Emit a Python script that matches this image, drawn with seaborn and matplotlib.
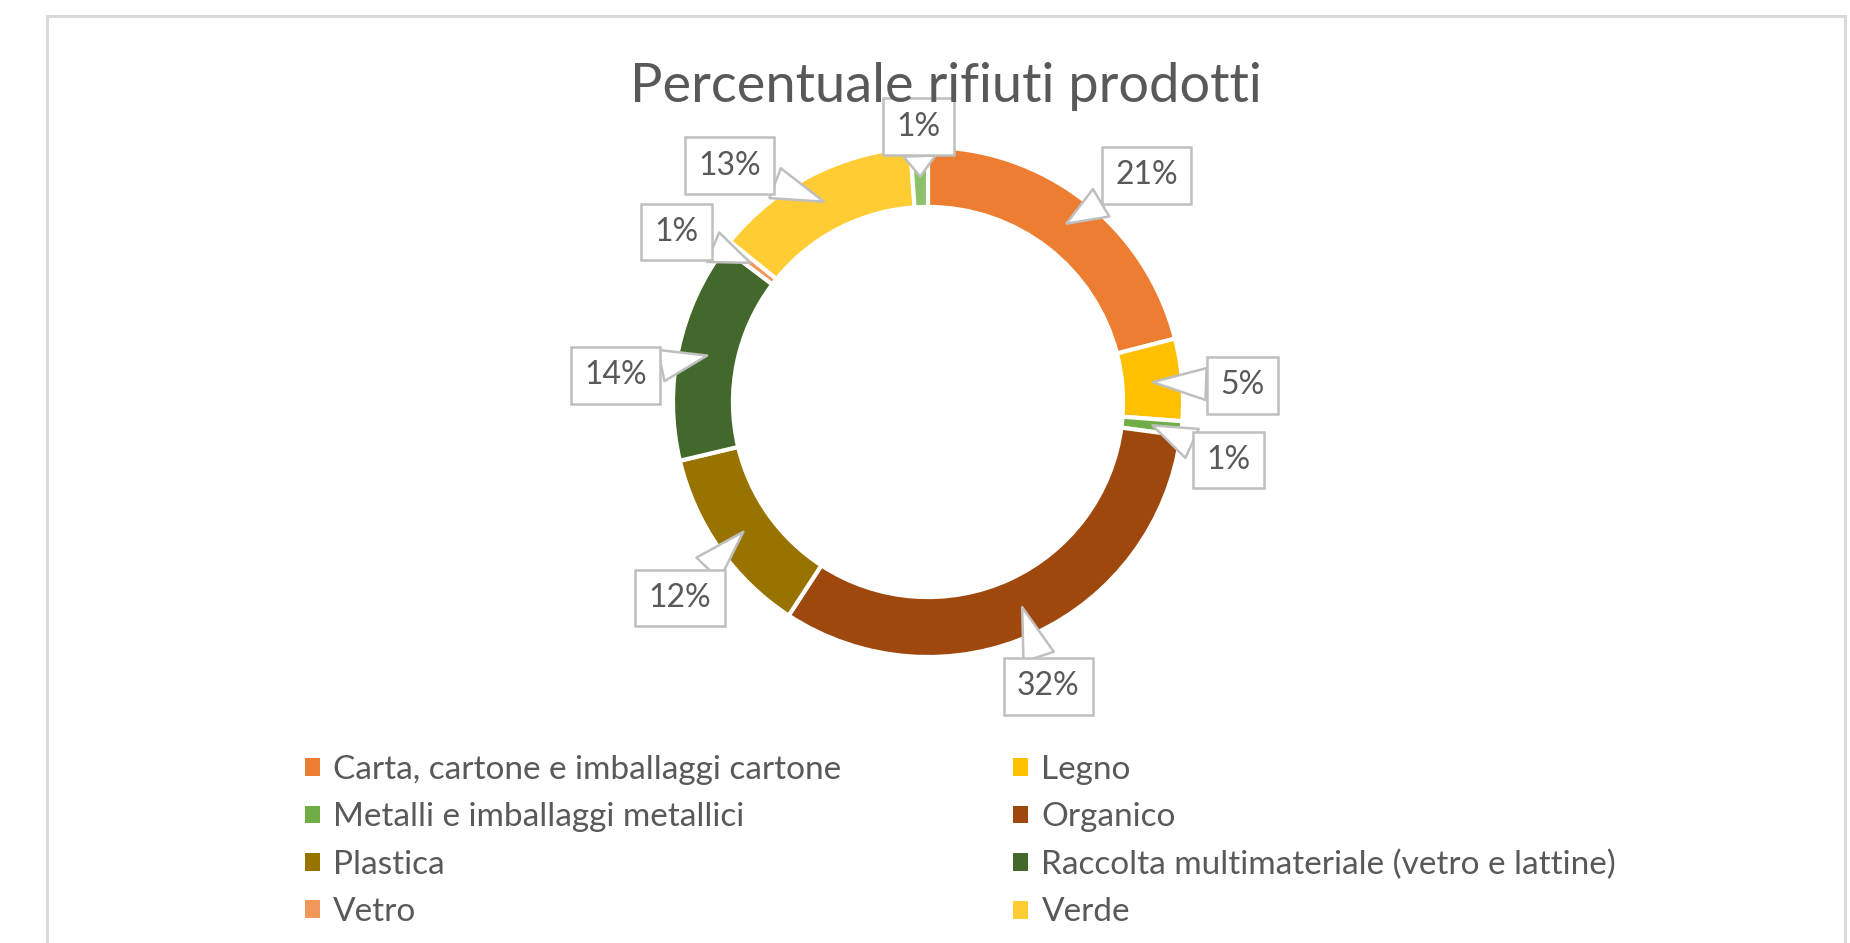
import numpy as np
import matplotlib
matplotlib.use("Agg")
import matplotlib.pyplot as plt
from matplotlib.patches import Rectangle, Patch
import seaborn as sns

# Waste categories and their share of the total (percent)
categories = [
    "Carta, cartone e imballaggi cartone",
    "Legno",
    "Metalli e imballaggi metallici",
    "Organico",
    "Plastica",
    "Raccolta multimateriale (vetro e lattine)",
    "Vetro",
    "Verde",
    "Altro",
]
shares = [21.0, 5.2, 0.9, 32.1, 12.1, 14.0, 0.55, 13.05, 1.1]
slice_colors = ["#ED7D31", "#FFC000", "#70AD47", "#9E480E", "#997300",
                "#43682B", "#F1975A", "#FFCD33", "#8CC168"]
title = "Percentuale rifiuti prodotti"

# Callout placement: angular nudge (deg) and radius (in ring radii) per slice
label_nudge = [6.2, 2.0, 5.0, 1.7, -3.2, -7.0, -4.0, -12.6, 0.0]
label_radius = [1.235, 1.235, 1.20, 1.21, 1.24, 1.23, 1.19, 1.21, 1.08]
legend_entries = 8

sns.set_theme(style="white")
plt.rcParams["font.family"] = ["Lato", "DejaVu Sans"]
text_color = "#595959"

W, H = 1850, 943
fig = plt.figure(figsize=(W / 100, H / 100), dpi=100)
fig.patch.set_facecolor("white")

# Axes spanning the whole figure, one data unit = ring outer radius
cx, cy, R = 928, H - 402, 255
ax = fig.add_axes([0, 0, 1, 1])
palette = sns.color_palette(slice_colors)
wedges, _ = ax.pie(
    shares, colors=palette, startangle=90, counterclock=False, radius=1.0,
    wedgeprops=dict(width=0.235, edgecolor="white", linewidth=3.0),
)
ax.set_xlim(-cx / R, (W - cx) / R)
ax.set_ylim(-cy / R, (H - cy) / R)
ax.set_aspect("auto")
ax.axis("off")

# Percentage callouts
total = float(sum(shares))
starts = np.cumsum([0.0] + shares[:-1])
for i, v in enumerate(shares):
    mid = (starts[i] + v / 2) / total * 360.0
    pct = int(np.floor(v / total * 100 + 0.5))
    th = np.deg2rad(mid)
    tip = (0.885 * np.sin(th), 0.885 * np.cos(th))
    tl = np.deg2rad(mid + label_nudge[i])
    pos = (label_radius[i] * np.sin(tl), label_radius[i] * np.cos(tl))
    ax.annotate(
        f"{pct}%", xy=tip, xytext=pos, ha="center", va="center",
        fontsize=23, color=text_color, zorder=5,
        bbox=dict(boxstyle="square,pad=0.42", fc="white", ec="#bfbfbf", lw=1.8),
        arrowprops=dict(arrowstyle="wedge,tail_width=1.0,shrink_factor=0.5",
                        fc="white", ec="#bfbfbf", lw=1.8, shrinkA=0, shrinkB=0),
    )

# Title
fig.text(946 / W, 1 - 102 / H, title, ha="center", va="baseline",
         fontsize=39, color=text_color)

# Legend in two columns, filled row by row
order = [0, 2, 4, 6, 1, 3, 5, 7][:legend_entries]
handles = [Patch(facecolor=palette[i], edgecolor="none") for i in order]
labels = [categories[i] for i in order]
leg = fig.legend(
    handles, labels, ncol=2, loc="upper left",
    bbox_to_anchor=(305 / W, 1 - 755 / H), frameon=False, fontsize=24,
    handlelength=0.45, handleheight=0.45, handletextpad=0.4,
    columnspacing=5.15, labelspacing=0.52, borderpad=0, borderaxespad=0,
)
for t in leg.get_texts():
    t.set_color(text_color)

# Chart-area frame
fig.add_artist(Rectangle((47 / W, -0.05), (1845 - 47) / W, (H - 16) / H + 0.05,
                         transform=fig.transFigure, fill=False,
                         ec="#d9d9d9", lw=2.2))

fig.savefig("out.png", dpi=100, facecolor="white")
